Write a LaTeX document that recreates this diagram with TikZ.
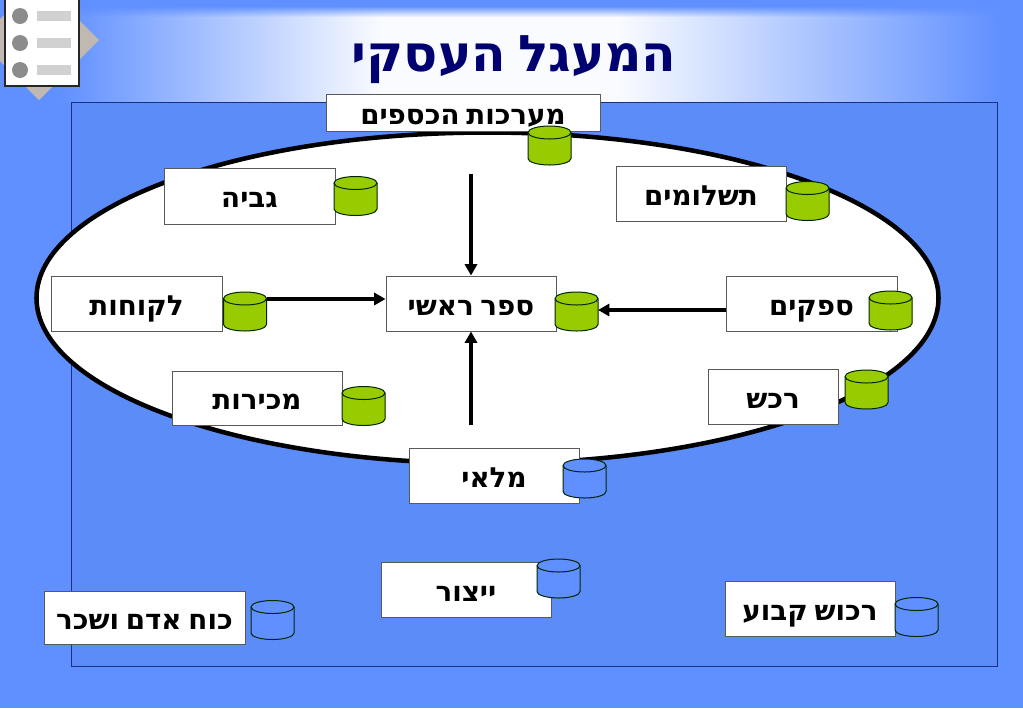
\documentclass[tikz,border=0pt]{standalone}
\usepackage{fontspec}
\usetikzlibrary{shapes.geometric,arrows.meta,fadings}
\TeXXeTstate=1
\newfontfamily\heb[Script=Hebrew,WordSpace=0.7]{DejaVu Sans}
\definecolor{bgblue}{HTML}{6090FF}
\definecolor{inblue}{HTML}{5C8CF8}
\definecolor{navy}{HTML}{000070}
\definecolor{frameline}{HTML}{1A3080}
\definecolor{cgreen}{HTML}{99CC00}
\tikzset{
  x=0.75pt,y=-0.75pt,
  box/.style={draw=black!65,fill=white,line width=0.7pt,inner sep=0,font=\heb\bfseries\fontsize{20.8}{24}\selectfont},
  dbnode/.style={inner sep=0,outer sep=0,minimum width=43*0.75pt,minimum height=39*0.75pt},
  dbline/.style={draw=black!85!green,line width=0.75pt},
  link/.style={draw=black,line width=2.4pt,-{Triangle[length=8.5pt,width=9pt]}}
}
\newcommand{\bx}[6]{\node[box,minimum width=(#4-#2)*0.75pt,minimum height=(#5-#3)*0.75pt] (#1) at ({(#2+#4)/2},{(#3+#5)/2}) {\raisebox{-8.7pt}[0pt][0pt]{#6}};}
\newcommand{\cyl}[4]{%
  \node[dbnode] (#1) at (#2,#3) {};
  \draw[dbline,fill=#4] (#1.north west) ++(0,6.5) -- ++(0,26) arc[start angle=180,end angle=0,x radius=21.5,y radius=6.5] -- ++(0,-26) arc[start angle=0,end angle=-180,x radius=21.5,y radius=6.5] -- cycle;
  \draw[dbline] (#1.north west) ++(0,6.5) arc[start angle=180,end angle=0,x radius=21.5,y radius=6.5];
}
\begin{document}
\begin{tikzpicture}
\useasboundingbox (0,0) rectangle (1023,708);
\fill[bgblue] (0,0) rectangle (1023,708);
% title band
\shade[left color=bgblue,right color=white!96!bgblue] (60,5) rectangle (380,102);
\fill[white!96!bgblue] (380,5) rectangle (620,102);
\shade[left color=white!96!bgblue,right color=bgblue] (620,5) rectangle (1000,102);
\fill[bgblue] (0,0) rectangle (1023,6);
\fill[bgblue,path fading=south] (0,6) rectangle (1023,17);
% icon
\fill[black!25!white!90!brown] (39,-20) -- (99,40) -- (39,100) -- (-21,40) -- cycle;
\draw[fill=white,draw=black!85,line width=0.9pt] (5,-2) rectangle (79,86);
\foreach \yy in {16,43,70}{
  \fill[black!45] (20,\yy) circle (6pt);
  \fill[black!18] (37,\yy-5) rectangle (71,\yy+5);
}
% frame
\draw[fill=inblue,draw=frameline,line width=0.7pt] (71,102) rectangle (997,666);
\node[inner sep=0,text=navy,font=\heb\bfseries\fontsize{37.8}{42}\selectfont] (title) at (514,60) {\beginR המעגל העסקי\endR};
% ellipse
\node[ellipse,draw=black,fill=white,line width=3.4pt,minimum width=902*0.75pt,minimum height=331*0.75pt,inner sep=0] (cycle) at (487.5,298) {};
% boxes
\bx{mm}{326}{94}{600}{131}{\beginR מערכות הכספים\endR}
\bx{gv}{164}{168}{335}{224}{\beginR גביה\endR}
\bx{ts}{616}{166}{786}{221}{\beginR תשלומים\endR}
\bx{lk}{51}{276}{222}{331}{\beginR לקוחות\endR}
\bx{sr}{386}{276}{556}{331}{\beginR ספר ראשי\endR}
\bx{sp}{726}{276}{897}{331}{\beginR ספקים\endR}
\bx{rk}{708}{369}{838}{424}{\beginR רכש\endR}
\bx{mk}{172}{371}{342}{425}{\beginR מכירות\endR}
\bx{ml}{409}{448}{579}{503}{\beginR מלאי\endR}
\bx{yz}{381}{562}{551}{617}{\beginR ייצור\endR}
\bx{ka}{44}{591}{245}{644}{\beginR כוח אדם ושכר\endR}
\bx{rq}{725}{581}{895}{636}{\beginR רכוש קבוע\endR}
% cylinders
\cyl{cmm}{549.5}{145.5}{cgreen}
\cyl{cgv}{355.5}{196}{cgreen}
\cyl{cts}{807.5}{201}{cgreen}
\cyl{clk}{245}{311.5}{cgreen}
\cyl{csr}{576.5}{311.5}{cgreen}
\cyl{csp}{890.5}{310.5}{cgreen}
\cyl{crk}{866.5}{389.5}{cgreen}
\cyl{cmk}{363.5}{406}{cgreen}
\cyl{cml}{584.5}{478.5}{bgblue}
\cyl{cyz}{558.5}{578.5}{bgblue}
\cyl{cka}{272.5}{620}{bgblue}
\cyl{crq}{916.5}{617}{bgblue}
% connectors
\coordinate (topfree) at (471,174);
\coordinate (botfree) at (471,425);
\coordinate (ly) at (0,299);
\coordinate (ry) at (0,310);
\draw[link] (topfree) -- (topfree |- sr.north);
\draw[link] (botfree) -- (botfree |- sr.south);
\draw[link] (clk.east |- ly) -- (sr.west |- ly);
\draw[link] (sp.west |- ry) -- (csr.east |- ry);
\end{tikzpicture}
\end{document}
